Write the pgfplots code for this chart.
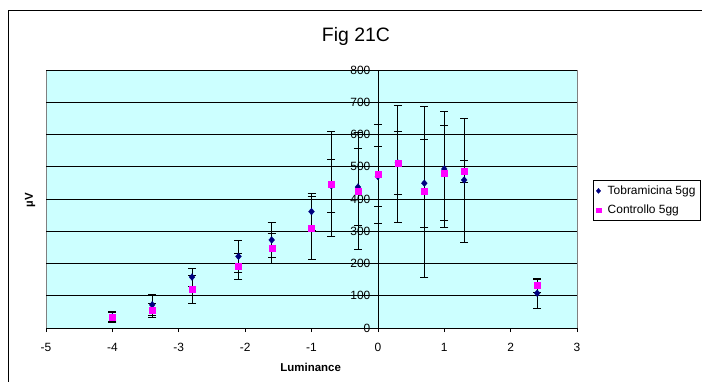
\documentclass[border=0pt]{standalone}
\usepackage{fontspec}
\setmainfont{Liberation Sans}
\usepackage{pgfplots}
\usepackage{pgfplotstable}
\pgfplotsset{compat=1.18}
\definecolor{plotbg}{HTML}{CCFFFF}
\definecolor{navy}{HTML}{000080}
\definecolor{mag}{HTML}{FF00FF}

\pgfplotstableread{
x y e
-4 35 15
-3.4 72 33
-2.8 158 28
-2.1 222 50
-1.6 273 55
-1 361 57
-0.7 441 82
-0.3 437 120
0 470 92
0.3 512 98
0.7 449 137
1 493 180
1.3 459 192
2.4 108 46
}\tobra

\pgfplotstableread{
x y e
-4 35 16
-3.4 54 22
-2.8 119 43
-2.1 192 40
-1.6 247 47
-1 310 97
-0.7 447 163
-0.3 425 182
0 478 154
0.3 510 182
0.7 423 266
1 480 147
1.3 487 34
2.4 132 20
}\contr

\begin{document}
\begin{tikzpicture}[x=1bp,y=1bp]
\path[use as bounding box, clip] (0,0) rectangle (702,381);
\fill[white] (0,0) rectangle (702,381);
\draw[black, line width=0.9bp] (8.5,-20) -- (8.5,371) -- (720,371);
\node[anchor=base, inner sep=0pt, font=\fontsize{19.5}{22}\selectfont] at (356,339.3) {Fig 21C};
\begin{axis}[
  at={(46bp,53bp)}, anchor=south west, scale only axis,
  width=531bp, height=258bp,
  xmin=-5, xmax=3, ymin=0, ymax=800,
  axis x line=bottom, axis y line=center,
  hide obscured x ticks=false, hide obscured y ticks=false,
  axis line style={black, line width=0.7bp, -},
  axis background/.style={fill=plotbg, draw=gray, line width=0.9bp},
  xtick={-5,-4,...,3}, ytick={0,100,...,800},
  tick align=outside, major tick length=4bp,
  tick style={black, line width=0.7bp},
  ymajorgrids, major grid style={black, line width=0.6bp},
  /pgf/number format/assume math mode=true,
  ticklabel style={font=\fontsize{12}{14}\selectfont},
  xticklabel style={yshift=-8bp},
  xlabel={Luminance}, ylabel={µV},
  every axis x label/.style={at={(rel axis cs:0.4985,0)}, anchor=center, yshift=-39bp, font=\bfseries\fontsize{11.5}{13}\selectfont},
  every axis y label/.style={at={(rel axis cs:-0.030,0.496)}, anchor=center, rotate=90, font=\bfseries\fontsize{11.5}{13}\selectfont},
  legend style={at={(rel axis cs:1.030,0.5736)}, anchor=north west, draw=black, line width=0.6bp,
    font=\fontsize{12}{14}\selectfont, inner xsep=3bp, inner ysep=3.5bp, row sep=5bp, fill=white,
    /tikz/every odd column/.append style={column sep=5bp}},
  legend image post style={scale=0.75},
  legend cell align=left,
  clip=false,
]
\addplot[only marks, mark=diamond*, mark size=3.4bp, mark options={xscale=1.15, fill=navy, draw=navy, line width=0.3bp},
  error bars/.cd, y dir=both, y explicit,
  error bar style={black, line width=0.6bp},
  error mark options={rotate=90, mark size=4bp, black, line width=0.6bp}]
  table[x=x, y=y, y error=e] {\tobra};
\addlegendentry{Tobramicina 5gg}
\addplot[only marks, mark=square*, mark size=3bp, mark options={fill=mag, draw=mag, line width=0.3bp},
  error bars/.cd, y dir=both, y explicit,
  error bar style={black, line width=0.6bp},
  error mark options={rotate=90, mark size=4bp, black, line width=0.6bp}]
  table[x=x, y=y, y error=e] {\contr};
\addlegendentry{Controllo 5gg}
\end{axis}
\end{tikzpicture}
\end{document}
